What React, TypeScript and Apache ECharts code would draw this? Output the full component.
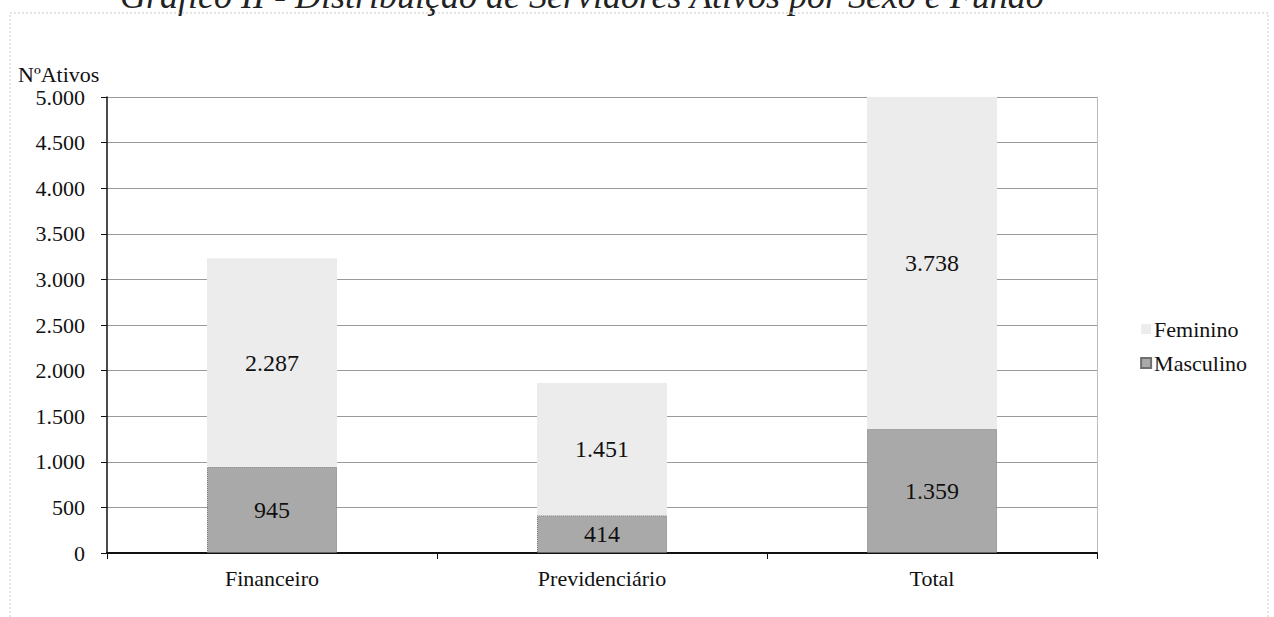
import React, { useEffect, useRef } from "react";
import * as echarts from "echarts";

const categories = ["Financeiro", "Previdenciário", "Total"];
const masculino = [945, 414, 1359];
const feminino = [2287, 1451, 3738];
const titleText = "Gráfico II - Distribuição de Servidores Ativos por Sexo e Fundo";
const yAxisName = "NºAtivos";

const fmt = (v: number) => String(Math.round(v)).replace(/\B(?=(\d{3})+(?!\d))/g, ".");

const SERIF = "'Liberation Serif', 'DejaVu Serif', serif";

export default function App() {
  const ref = useRef<HTMLDivElement>(null);
  useEffect(() => {
    if (!ref.current) return;
    const chart = echarts.init(ref.current, undefined, { renderer: "svg" });
    chart.setOption({
      animation: false,
      backgroundColor: "#ffffff",
      textStyle: { fontFamily: SERIF },
      graphic: [
        {
          type: "text",
          left: 120,
          top: -22,
          style: {
            text: titleText,
            font: `italic 36px ${SERIF}`,
            fill: "#222",
          },
        },
        {
          type: "rect",
          shape: { x: 10, y: 13, width: 1258, height: 620 },
          style: { fill: "none", stroke: "#c8c8c8", lineWidth: 1, lineDash: [2, 2] },
          silent: true,
        },
        {
          type: "text",
          left: 18,
          top: 63,
          style: { text: yAxisName, font: `22px ${SERIF}`, fill: "#111" },
        },
      ],
      legend: {
        orient: "vertical",
        right: 22,
        top: 313,
        itemWidth: 10,
        itemHeight: 10,
        itemGap: 12,
        icon: "rect",
        data: ["Feminino", "Masculino"],
        textStyle: { fontSize: 22, fontFamily: SERIF, color: "#111", padding: [0, 0, 0, -2] },
      },
      grid: { left: 107, right: 177, top: 97, bottom: 64, containLabel: false },
      xAxis: {
        type: "category",
        data: categories,
        axisLine: { lineStyle: { color: "#111", width: 2 } },
        axisTick: { show: true, length: 6, lineStyle: { color: "#111" } },
        axisLabel: { fontSize: 22, fontFamily: SERIF, color: "#111", margin: 14 },
      },
      yAxis: [
        {
          type: "value",
          min: 0,
          max: 5000,
          interval: 500,
          axisLine: { show: true, lineStyle: { color: "#111", width: 1.5 } },
          axisTick: { show: true, length: 6, inside: false, lineStyle: { color: "#111" } },
          axisLabel: { fontSize: 22, fontFamily: SERIF, color: "#111", margin: 22, formatter: fmt },
          splitLine: { show: true, lineStyle: { color: "#9a9a9a", width: 1 } },
        },
        {
          type: "value",
          min: 0,
          max: 5000,
          interval: 500,
          position: "right",
          axisLine: { show: true, lineStyle: { color: "#bdbdbd", width: 1 } },
          axisTick: { show: false },
          axisLabel: { show: false },
          splitLine: { show: false },
        },
      ],
      series: [
        {
          name: "Masculino",
          type: "bar",
          stack: "total",
          data: masculino,
          barWidth: 130,
          itemStyle: { color: "#a9a9a9", borderColor: "#6f6f6f", borderWidth: 1, borderType: "dotted" },
          label: {
            show: true,
            position: "inside",
            fontSize: 24,
            fontFamily: SERIF,
            color: "#111",
            formatter: (p: any) => fmt(p.value),
          },
        },
        {
          name: "Feminino",
          type: "bar",
          stack: "total",
          data: feminino,
          barWidth: 130,
          itemStyle: { color: "#ececec" },
          label: {
            show: true,
            position: "inside",
            fontSize: 24,
            fontFamily: SERIF,
            color: "#111",
            formatter: (p: any) => fmt(p.value),
          },
        },
      ],
    });
    return () => chart.dispose();
  }, []);
  return (
    <div
      ref={ref}
      style={{ position: "absolute", left: 0, top: 0, width: 1274, height: 617 }}
    />
  );
}
